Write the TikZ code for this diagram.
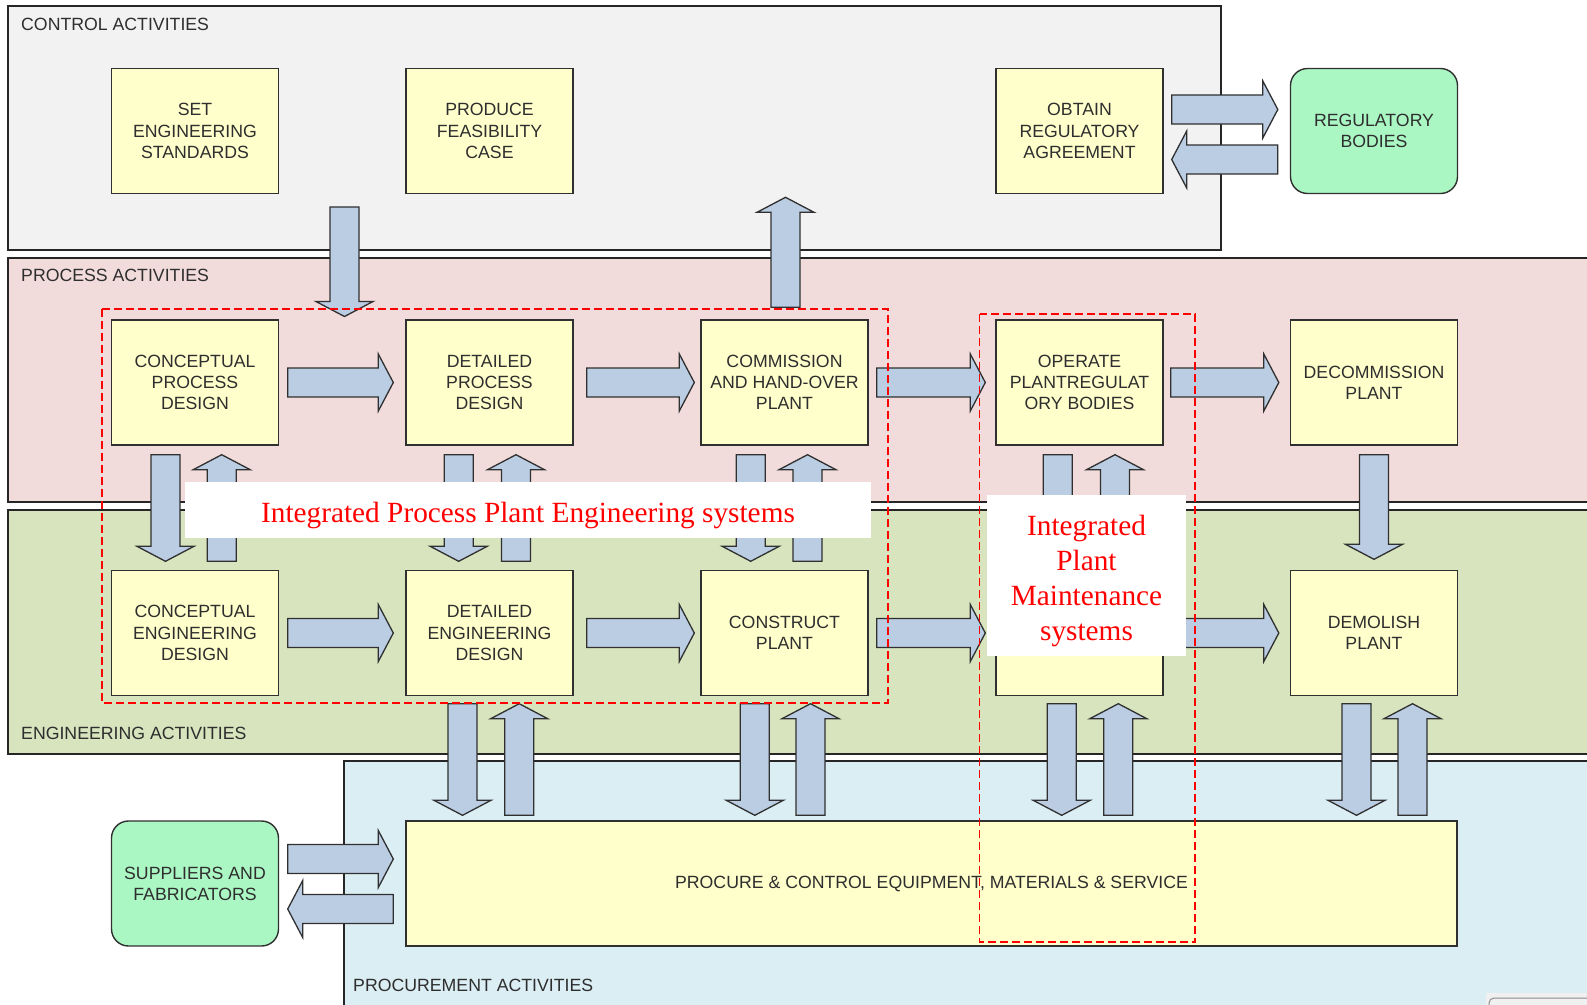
\documentclass[tikz,border=0pt]{standalone}
\usepackage{fontspec}
\setmainfont{Liberation Sans}
\newfontfamily\tagfont{Liberation Serif}
\usetikzlibrary{calc}

\definecolor{ctlfill}{HTML}{F2F2F2}
\definecolor{prcfill}{HTML}{F2DCDB}
\definecolor{engfill}{HTML}{D7E4BD}
\definecolor{purfill}{HTML}{DBEEF4}
\definecolor{actfill}{HTML}{FFFFCC}
\definecolor{extfill}{HTML}{ABF7C4}
\definecolor{arrfill}{HTML}{BBCDE2}
\definecolor{boxline}{HTML}{303030}
\definecolor{txt}{HTML}{2E2E2E}

\tikzset{
  panel/.style={draw=black!85, line width=1.4pt},
  act/.style={draw=boxline, fill=actfill, line width=1.4pt,
    minimum width=167pt, minimum height=125pt, inner sep=0pt, align=center,
    text=txt, font=\fontsize{17.7}{21.2}\selectfont},
  ext/.style={act, fill=extfill, rounded corners=17pt},
  barrow/.style={draw=boxline, fill=arrfill, line width=1.3pt, line join=miter},
  zone/.style={draw=red, line width=1.6pt, dash pattern=on 8pt off 4pt},
  tagbox/.style={fill=white, inner sep=0pt},
  tagtext/.style={inner sep=0pt, text=red, align=center, yshift=-5pt,
    font=\tagfont\fontsize{29.3}{35}\selectfont},
  sect/.style={anchor=west, inner sep=0pt, text=txt,
    font=\fontsize{17.7}{21}\selectfont}
}

% block arrows: horizontal ones take tail and tip (tail sets the height);
% vertical ones take an x reference, the tail level and the tip level
\newcommand\blkR[2]{\draw[barrow] let \p1=#1, \p2=#2 in
  (\x1,\y1+14.5pt) -- (\x2-15pt,\y1+14.5pt) -- (\x2-15pt,\y1+28.5pt) -- (\x2,\y1)
  -- (\x2-15pt,\y1-28.5pt) -- (\x2-15pt,\y1-14.5pt) -- (\x1,\y1-14.5pt) -- cycle;}
\newcommand\blkL[2]{\draw[barrow] let \p1=#1, \p2=#2 in
  (\x1,\y1+14.5pt) -- (\x2+15pt,\y1+14.5pt) -- (\x2+15pt,\y1+28.5pt) -- (\x2,\y1)
  -- (\x2+15pt,\y1-28.5pt) -- (\x2+15pt,\y1-14.5pt) -- (\x1,\y1-14.5pt) -- cycle;}
\newcommand\blkD[3]{\draw[barrow] let \p1=#1, \p2=#2, \p3=#3 in
  (\x1-14.5pt,\y2) -- (\x1-14.5pt,\y3+15pt) -- (\x1-28.5pt,\y3+15pt) -- (\x1,\y3)
  -- (\x1+28.5pt,\y3+15pt) -- (\x1+14.5pt,\y3+15pt) -- (\x1+14.5pt,\y2) -- cycle;}
\newcommand\blkU[3]{\draw[barrow] let \p1=#1, \p2=#2, \p3=#3 in
  (\x1-14.5pt,\y2) -- (\x1-14.5pt,\y3-15pt) -- (\x1-28.5pt,\y3-15pt) -- (\x1,\y3)
  -- (\x1+28.5pt,\y3-15pt) -- (\x1+14.5pt,\y3-15pt) -- (\x1+14.5pt,\y2) -- cycle;}

\begin{document}
\begin{tikzpicture}[x=1pt,y=-1pt]
\useasboundingbox[fill=white] (0,0) rectangle (1587,1004);

% activity bands
\draw[panel, fill=ctlfill] (8,6) rectangle (1221,250);
\draw[panel, fill=prcfill] (8,258) rectangle (1600,502);
\draw[panel, fill=engfill] (8,510) rectangle (1600,754);
\draw[panel, fill=purfill] (344,761) rectangle (1600,1012);

\node[sect] (lctl) at (21,24.5) {CONTROL ACTIVITIES};
\node[sect] (lprc) at (21,275.5) {PROCESS ACTIVITIES};
\node[sect] (leng) at (21,733) {ENGINEERING ACTIVITIES};
\node[sect] (lpur) at (353,985) {PROCUREMENT ACTIVITIES};

% corner widget
\fill[black!6] (1486,993) rectangle (1600,1012);
\draw[black!45, line width=1pt, rounded corners=5pt] (1489,1012) -- (1489,998) -- (1600,998);

% control row
\node[act] (ses) at (195,131) {SET\\ENGINEERING\\STANDARDS};
\node[act] (pfc) at (489.5,131) {PRODUCE\\FEASIBILITY\\CASE};
\node[act] (ora) at (1079.5,131) {OBTAIN\\REGULATORY\\AGREEMENT};
\node[ext] (reg) at (1374,131) {REGULATORY\\BODIES};

% process row
\node[act] (cpd) at (195,382.5) {CONCEPTUAL\\PROCESS\\DESIGN};
\node[act] (dpd) at (489.5,382.5) {DETAILED\\PROCESS\\DESIGN};
\node[act] (com) at (784.5,382.5) {COMMISSION\\AND HAND-OVER\\PLANT};
\node[act] (opr) at (1079.5,382.5) {OPERATE\\PLANTREGULAT\\ORY BODIES};
\node[act] (dec) at (1374,382.5) {DECOMMISSION\\PLANT};

% engineering row
\node[act] (ced) at (195,633) {CONCEPTUAL\\ENGINEERING\\DESIGN};
\node[act] (ded) at (489.5,633) {DETAILED\\ENGINEERING\\DESIGN};
\node[act] (con) at (784.5,633) {CONSTRUCT\\PLANT};
\node[act] (mnt) at (1079.5,633) {};
\node[act] (dem) at (1374,633) {DEMOLISH\\PLANT};

% procurement row
\node[ext] (sup) at (195,883.5) {SUPPLIERS AND\\FABRICATORS};
\node[act, minimum width=1051pt] (pro) at (931.5,883.5)
  {PROCURE \& CONTROL EQUIPMENT, MATERIALS \& SERVICE};

% regulatory exchange
\blkR{($(ora.east)+(8pt,21.5pt)$)}{($(reg.west)+(-12pt,21.5pt)$)}
\blkL{($(reg.west)+(-12pt,-28.5pt)$)}{($(ora.east)+(8pt,-28.5pt)$)}

% between control and process bands
\coordinate (stdTail) at (344.5,207);
\coordinate (stdTip) at (344.5,316.5);
\blkD{(stdTail)}{(stdTail)}{(stdTip)}
\blkU{($(com.north)+(1pt,0pt)$)}{($(com.north)+(0pt,12pt)$)}{($(com.north)+(0pt,122pt)$)}

% process flow
\blkR{($(cpd.east)+(8.5pt,0pt)$)}{($(dpd.west)+(-12pt,0pt)$)}
\blkR{($(dpd.east)+(13pt,0pt)$)}{($(com.west)+(-6pt,0pt)$)}
\blkR{($(com.east)+(8pt,0pt)$)}{($(opr.west)+(-10pt,0pt)$)}
\blkR{($(opr.east)+(7pt,0pt)$)}{($(dec.west)+(-11pt,0pt)$)}

% engineering flow
\blkR{($(ced.east)+(8.5pt,0pt)$)}{($(ded.west)+(-12pt,0pt)$)}
\blkR{($(ded.east)+(13pt,0pt)$)}{($(con.west)+(-6pt,0pt)$)}
\blkR{($(con.east)+(8pt,0pt)$)}{($(mnt.west)+(-10pt,0pt)$)}
\blkR{($(mnt.east)+(7pt,0pt)$)}{($(dem.west)+(-11pt,0pt)$)}

% process <-> engineering
\blkD{($(cpd.south)+(-29.5pt,0pt)$)}{($(cpd.south)+(0pt,-9pt)$)}{($(ced.north)+(0pt,8.5pt)$)}
\blkU{($(cpd.south)+(26.7pt,0pt)$)}{($(ced.north)+(0pt,8.5pt)$)}{($(cpd.south)+(0pt,-9pt)$)}
\blkD{($(dpd.south)+(-30.8pt,0pt)$)}{($(dpd.south)+(0pt,-9pt)$)}{($(ded.north)+(0pt,8.5pt)$)}
\blkU{($(dpd.south)+(26.5pt,0pt)$)}{($(ded.north)+(0pt,8.5pt)$)}{($(dpd.south)+(0pt,-9pt)$)}
\blkD{($(com.south)+(-33.8pt,0pt)$)}{($(com.south)+(0pt,-9pt)$)}{($(con.north)+(0pt,8.5pt)$)}
\blkU{($(com.south)+(23pt,0pt)$)}{($(con.north)+(0pt,8.5pt)$)}{($(com.south)+(0pt,-9pt)$)}
\blkD{($(opr.south)+(-21.7pt,0pt)$)}{($(opr.south)+(0pt,-9pt)$)}{($(mnt.north)+(0pt,8.5pt)$)}
\blkU{($(opr.south)+(35.5pt,0pt)$)}{($(mnt.north)+(0pt,8.5pt)$)}{($(opr.south)+(0pt,-9pt)$)}
\blkD{(dec.south)}{($(dec.south)+(0pt,-9pt)$)}{($(dem.north)+(0pt,10.5pt)$)}

% engineering <-> procurement
\blkD{($(ded.south)+(-27pt,0pt)$)}{($(ded.south)+(0pt,-7.5pt)$)}{($(pro.north)+(0pt,5pt)$)}
\blkU{($(ded.south)+(29.7pt,0pt)$)}{($(pro.north)+(0pt,5pt)$)}{($(ded.south)+(0pt,-7.5pt)$)}
\blkD{($(con.south)+(-29.7pt,0pt)$)}{($(con.south)+(0pt,-7.5pt)$)}{($(pro.north)+(0pt,5pt)$)}
\blkU{($(con.south)+(26pt,0pt)$)}{($(pro.north)+(0pt,5pt)$)}{($(con.south)+(0pt,-7.5pt)$)}
\blkD{($(mnt.south)+(-17.8pt,0pt)$)}{($(mnt.south)+(0pt,-7.5pt)$)}{($(pro.north)+(0pt,5pt)$)}
\blkU{($(mnt.south)+(38.8pt,0pt)$)}{($(pro.north)+(0pt,5pt)$)}{($(mnt.south)+(0pt,-7.5pt)$)}
\blkD{($(dem.south)+(-17.5pt,0pt)$)}{($(dem.south)+(0pt,-7.5pt)$)}{($(pro.north)+(0pt,5pt)$)}
\blkU{($(dem.south)+(38.5pt,0pt)$)}{($(pro.north)+(0pt,5pt)$)}{($(dem.south)+(0pt,-7.5pt)$)}

% suppliers exchange
\blkR{($(sup.east)+(8.5pt,24.5pt)$)}{($(pro.west)+(-12pt,24.5pt)$)}
\blkL{($(pro.west)+(-12pt,-25.5pt)$)}{($(sup.east)+(8.5pt,-25.5pt)$)}

% system boundaries
\draw[zone] (102,309) rectangle (888,703);
\draw[zone] (979.5,314) rectangle (1195,942);

\node[tagbox, minimum width=686pt, minimum height=55.5pt] (ipe) at (528,510) {};
\node[tagtext] (ipet) at (ipe.center) {Integrated Process Plant Engineering systems};
\node[tagbox, minimum width=199pt, minimum height=161pt] (ipm) at (1086.5,575.5) {};
\node[tagtext] (ipmt) at (ipm.center) {Integrated\\Plant\\Maintenance\\systems};
\end{tikzpicture}
\end{document}
